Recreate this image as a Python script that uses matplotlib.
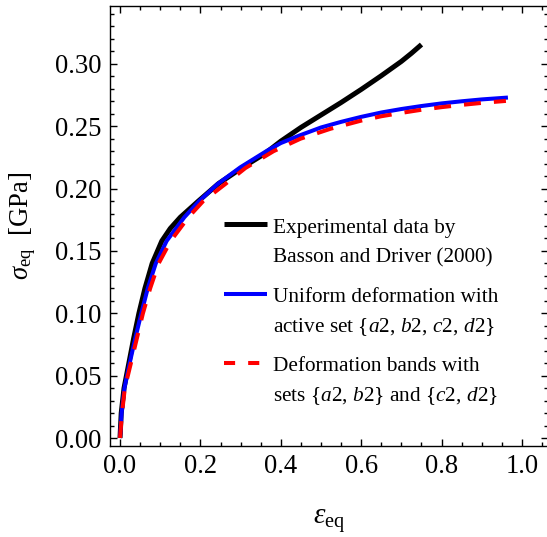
import matplotlib
matplotlib.use("Agg")
import matplotlib.pyplot as plt
from matplotlib.ticker import MultipleLocator

plt.rcParams['font.family'] = ['Liberation Serif', 'DejaVu Serif']
plt.rcParams['mathtext.fontset'] = 'custom'
plt.rcParams['mathtext.rm'] = 'Liberation Serif'
plt.rcParams['mathtext.it'] = 'Liberation Serif:italic'
plt.rcParams['mathtext.bf'] = 'Liberation Serif:bold'
plt.rcParams['lines.scale_dashes'] = False

# ---- data ----
exp_strain = [0.0, 0.003, 0.010, 0.022, 0.034, 0.047, 0.062, 0.080, 0.104, 0.125,
              0.150, 0.195, 0.245, 0.305, 0.360, 0.400, 0.450, 0.500, 0.550,
              0.600, 0.650, 0.700, 0.725, 0.750]
exp_stress = [0.0, 0.020, 0.040, 0.060, 0.080, 0.100, 0.120, 0.140, 0.158, 0.168,
              0.177, 0.190, 0.204, 0.217, 0.228, 0.238, 0.249, 0.259, 0.269,
              0.2795, 0.2905, 0.3020, 0.3085, 0.3155]

uni_strain = [0.0, 0.004, 0.011, 0.024, 0.038, 0.053, 0.069, 0.089, 0.116, 0.160,
              0.197, 0.242, 0.299, 0.366, 0.400, 0.450, 0.500, 0.550, 0.600,
              0.650, 0.700, 0.750, 0.800, 0.850, 0.900, 0.965]
uni_stress = [0.0, 0.020, 0.040, 0.060, 0.080, 0.100, 0.120, 0.140, 0.158, 0.177,
              0.190, 0.2035, 0.217, 0.2304, 0.2365, 0.2430, 0.2490, 0.2535, 0.2575,
              0.2610, 0.2638, 0.2662, 0.2683, 0.2700, 0.2715, 0.2730]

band_strain = [0.0, 0.005, 0.012, 0.027, 0.042, 0.057, 0.075, 0.096, 0.126, 0.170,
               0.207, 0.262, 0.312, 0.382, 0.449, 0.524, 0.600, 0.650, 0.700,
               0.750, 0.800, 0.850, 0.900, 0.960]
band_stress = [0.0, 0.020, 0.040, 0.060, 0.080, 0.100, 0.120, 0.140, 0.158, 0.177,
               0.190, 0.2037, 0.2165, 0.2300, 0.2400, 0.2480, 0.2545, 0.2580, 0.2607,
               0.2632, 0.2653, 0.2671, 0.2687, 0.2703]

legend_lines = [
    ["Experimental data by", "Basson and Driver (2000)"],
    ["Uniform deformation with", r"active set $\{a2,\, b2,\, c2,\, d2\}$"],
    ["Deformation bands with", r"sets $\{a2,\, b2\}$ and $\{c2,\, d2\}$"],
]

x_ticks = [0.0, 0.2, 0.4, 0.6, 0.8, 1.0]
y_ticks = [0.00, 0.05, 0.10, 0.15, 0.20, 0.25, 0.30]

# ---- figure ----
W, H = 547, 537
fig = plt.figure(figsize=(W / 100, H / 100), dpi=100)
ax = fig.add_axes([110 / W, 1 - 446 / H, 438 / W, 440 / H])

ax.plot(exp_strain, exp_stress, color='black', lw=3.6, solid_capstyle='butt',
        solid_joinstyle='round', zorder=3)
ax.plot(uni_strain, uni_stress, color=(0, 0, 1), lw=2.9, solid_capstyle='butt',
        solid_joinstyle='round', zorder=4)
ax.plot(band_strain, band_stress, color=(1, 0, 0), lw=2.9, dashes=(12.2, 9.4),
        dash_capstyle='butt', dash_joinstyle='round', zorder=5)

ax.set_xlim(-0.0249, 1.0647)
ax.set_ylim(-0.0064, 0.3464)
ax.set_xticks(x_ticks)
ax.set_xticklabels([f"{v:.1f}" for v in x_ticks])
ax.set_yticks(y_ticks)
ax.set_yticklabels([f"{v:.2f}" for v in y_ticks])
ax.xaxis.set_minor_locator(MultipleLocator(0.05))
ax.yaxis.set_minor_locator(MultipleLocator(0.01))
ax.tick_params(which='both', direction='in', top=True, right=True, width=1.0)
ax.tick_params(which='major', length=5.0, labelsize=19.2, pad=6)
ax.tick_params(which='minor', length=2.9)
for s in ax.spines.values():
    s.set_linewidth(1.0)

ax.set_xlabel(r'$\varepsilon_{\mathrm{eq}}$', fontsize=21, labelpad=20)
ax.set_ylabel(r'$\sigma_{\mathrm{eq}}$  [GPa]', fontsize=19.2, labelpad=12)

# ---- legend (drawn manually to keep handle on first line) ----
handle_x = (0.260, 0.358)
text_x = 0.372
handle_y = [0.5045, 0.345, 0.189]
base_y = [(0.484, 0.416), (0.327, 0.259), (0.170, 0.102)]
styles = [dict(color='black', lw=3.6), dict(color=(0, 0, 1), lw=2.9),
          dict(color=(1, 0, 0), lw=2.9, dashes=(8.0, 9.4))]
for i in range(3):
    ax.plot(handle_x, [handle_y[i]] * 2, transform=ax.transAxes,
            solid_capstyle='butt', dash_capstyle='butt', clip_on=False, **styles[i])
    for j in range(2):
        ax.text(text_x, base_y[i][j], legend_lines[i][j], transform=ax.transAxes,
                fontsize=15.3, va='baseline', ha='left')

fig.savefig("out.png", dpi=100)
